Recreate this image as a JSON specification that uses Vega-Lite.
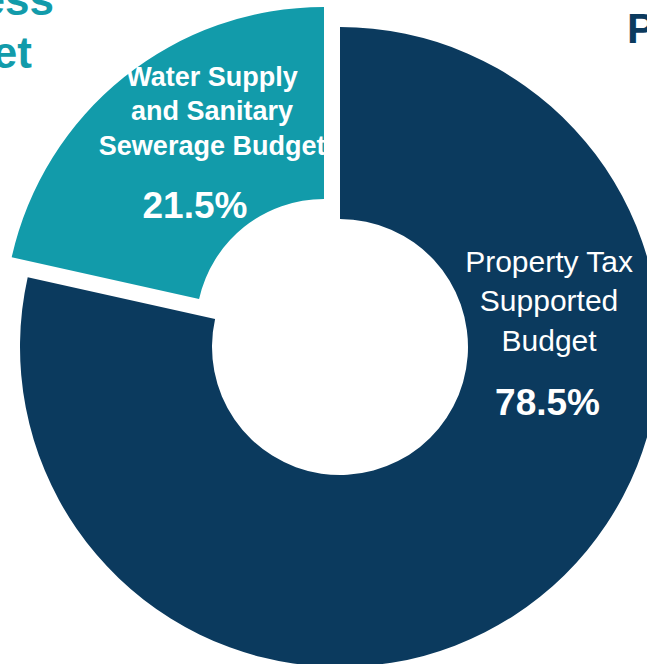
{
  "$schema": "https://vega.github.io/schema/vega-lite/v6.json",
  "width": 680,
  "height": 694,
  "padding": 0,
  "autosize": {"type": "none"},
  "background": "white",
  "config": {"view": {"stroke": null}},
  "datasets": {
    "budget": [
      {"segment": "Property Tax Supported Budget", "share": 78.5, "order": 1, "name": "Property Tax\nSupported\nBudget", "pct": "78.5%"},
      {"segment": "Water Supply and Sanitary Sewerage Budget", "share": 21.5, "order": 2, "name": "Water Supply\nand Sanitary\nSewerage Budget", "pct": "21.5%"}
    ],
    "headings": [
      {"id": "left", "heading": "Business\nBudget"},
      {"id": "right", "heading": "Property Tax Supported Budget"}
    ]
  },
  "data": {"name": "budget"},
  "layer": [
    {
      "transform": [
        {"stack": "share", "groupby": [], "sort": [{"field": "order"}], "as": ["s0", "s1"]},
        {"filter": "datum.order == 1"}
      ],
      "mark": {"type": "arc", "radius": 320, "radius2": 128, "color": "#0B3A5E"},
      "encoding": {
        "theta": {"field": "s0", "type": "quantitative", "scale": {"domain": [0, 100]}},
        "theta2": {"field": "s1"}
      }
    },
    {
      "transform": [
        {"stack": "share", "groupby": [], "sort": [{"field": "order"}], "as": ["s0", "s1"]},
        {"filter": "datum.order == 2"}
      ],
      "mark": {"type": "arc", "radius": 320, "radius2": 128, "color": "#129BAA", "xOffset": -16, "yOffset": -20},
      "encoding": {
        "theta": {"field": "s0", "type": "quantitative", "scale": {"domain": [0, 100]}},
        "theta2": {"field": "s1"}
      }
    },
    {
      "transform": [{"filter": "datum.order == 2"}],
      "mark": {"type": "text", "theta": -0.455, "radius": 291, "align": "center", "baseline": "alphabetic", "font": "Liberation Sans", "fontWeight": "bold", "fontSize": 27, "lineHeight": 34.5, "lineBreak": "\n", "color": "white"},
      "encoding": {"text": {"field": "name"}}
    },
    {
      "transform": [{"filter": "datum.order == 2"}],
      "mark": {"type": "text", "theta": -0.8449, "radius": 193.9, "align": "center", "baseline": "alphabetic", "font": "Liberation Sans", "fontWeight": "bold", "fontSize": 37, "color": "white"},
      "encoding": {"text": {"field": "pct"}}
    },
    {
      "transform": [{"filter": "datum.order == 1"}],
      "mark": {"type": "text", "theta": 1.225, "radius": 222.2, "align": "center", "baseline": "alphabetic", "font": "Liberation Sans", "fontWeight": "normal", "fontSize": 30, "lineHeight": 39.5, "lineBreak": "\n", "color": "white"},
      "encoding": {"text": {"field": "name"}}
    },
    {
      "transform": [{"filter": "datum.order == 1"}],
      "mark": {"type": "text", "theta": 1.8875, "radius": 218.4, "align": "center", "baseline": "alphabetic", "font": "Liberation Sans", "fontWeight": "bold", "fontSize": 37, "color": "white"},
      "encoding": {"text": {"field": "pct"}}
    },
    {
      "data": {"name": "headings"},
      "transform": [{"filter": "datum.id == 'left'"}],
      "mark": {"type": "text", "theta": -0.8578, "radius": 507.6, "align": "center", "baseline": "alphabetic", "font": "Liberation Sans", "fontWeight": "bold", "fontSize": 44, "lineHeight": 53, "lineBreak": "\n", "color": "#129BAA"},
      "encoding": {"text": {"field": "heading"}}
    },
    {
      "data": {"name": "headings"},
      "transform": [{"filter": "datum.id == 'right'"}],
      "mark": {"type": "text", "theta": 0.7566, "radius": 418.1, "align": "left", "baseline": "alphabetic", "font": "Liberation Sans", "fontWeight": "bold", "fontSize": 42, "color": "#0B3A5E"},
      "encoding": {"text": {"field": "heading"}}
    }
  ]
}
